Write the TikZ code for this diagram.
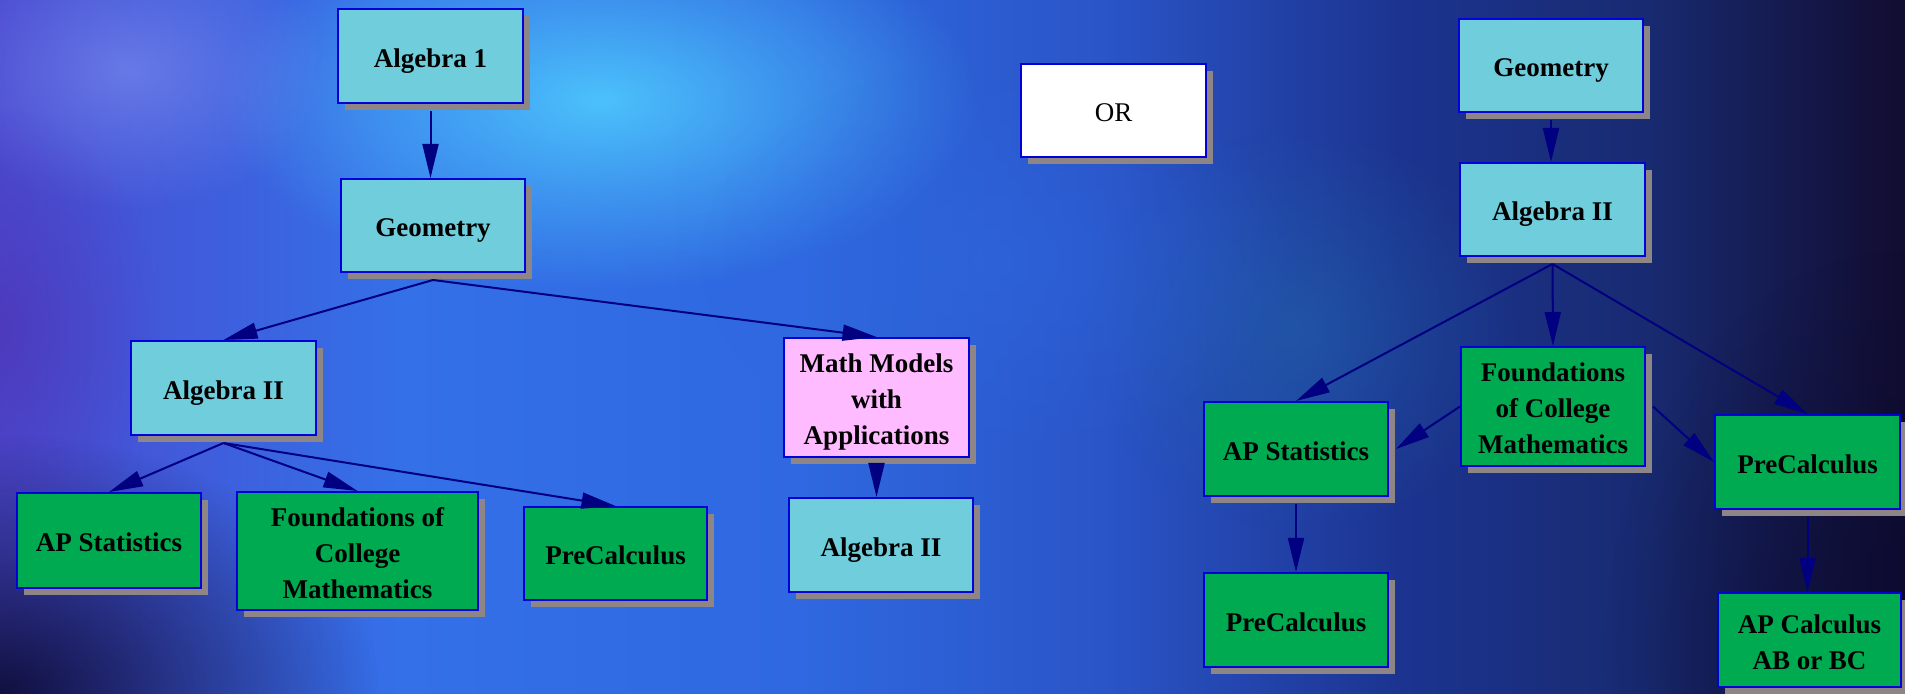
\documentclass[tikz,border=0pt]{standalone}
\usepackage{fontspec}
\setmainfont{Liberation Serif}
\usetikzlibrary{arrows.meta,shadows,fadings}
\definecolor{cyanbox}{HTML}{6FCDDC}
\definecolor{greenbox}{HTML}{00AA50}
\definecolor{pinkbox}{HTML}{FFBBFF}
\definecolor{boxedge}{HTML}{0000D8}
\definecolor{shadowgray}{HTML}{8E8686}
\definecolor{arrowblue}{HTML}{000080}
\definecolor{bgA}{HTML}{4A4AD0}
\definecolor{bgB}{HTML}{3470E8}
\definecolor{bgC}{HTML}{2F68E0}
\definecolor{bgD}{HTML}{2A55C8}
\definecolor{bgE}{HTML}{1C3490}
\definecolor{bgF}{HTML}{182A70}
\definecolor{bgG}{HTML}{120C30}
\definecolor{spotcyan}{HTML}{50D0FF}
\definecolor{spotlight}{HTML}{8090F0}
\definecolor{spotpurple}{HTML}{5030B0}
\definecolor{spotdark}{HTML}{0A0A30}
\definecolor{spotteal}{HTML}{2068A8}
\pgfdeclarehorizontalshading{bgshade}{100bp}{color(0bp)=(bgA); color(25bp)=(bgA); color(35.5bp)=(bgB); color(46bp)=(bgC); color(53.9bp)=(bgD); color(61.7bp)=(bgE); color(68.3bp)=(bgF); color(75bp)=(bgG); color(100bp)=(bgG)}
\pgfdeclareradialshading{softblobshade}{\pgfpointorigin}{color(0bp)=(pgftransparent!0); color(12bp)=(pgftransparent!50); color(25bp)=(pgftransparent!100); color(50bp)=(pgftransparent!100)}
\pgfdeclarefading{softblob}{\pgfuseshading{softblobshade}}
\newcommand\tstrut{\rule{0pt}{11.5pt}}
\tikzset{
  cbox/.style={draw=boxedge, line width=1pt, inner sep=0pt, align=center,
    font=\fontsize{13.5}{18}\selectfont\bfseries,
    drop shadow={shadow xshift=3.5pt, shadow yshift=-3.5pt, fill=shadowgray, opacity=1}},
  cyanb/.style={cbox, fill=cyanbox},
  greenb/.style={cbox, fill=greenbox},
  pinkb/.style={cbox, fill=pinkbox},
  whiteb/.style={cbox, fill=white, font=\fontsize{13.5}{18}\selectfont},
  link/.style={draw=arrowblue, line width=1pt, -{Triangle[length=17pt,width=8pt]}},
  blob/.style={path fading=softblob, fit fading=true}
}
\begin{document}
\begin{tikzpicture}[x=0.5pt,y=-0.5pt]
\useasboundingbox (0,0) rectangle (1905,694);
% background
\shade[shading=bgshade] (0,0) rectangle (1905,694);
\fill[spotcyan, blob, fill opacity=0.85] (600,100) ellipse (380 and 190);
\fill[spotlight, blob, fill opacity=0.6] (130,70) ellipse (200 and 140);
\fill[spotpurple, blob, fill opacity=0.6] (0,330) ellipse (160 and 220);
\fill[spotdark, blob, fill opacity=0.9] (0,694) ellipse (380 and 260);
\fill[spotdark, blob, fill opacity=0.7] (1905,650) ellipse (300 and 400);
\fill[spotteal, blob, fill opacity=0.5] (1300,330) ellipse (220 and 200);
\fill[bgC, blob, fill opacity=0.5] (1000,260) ellipse (300 and 200);
% nodes
\node[cyanb, minimum width=92.5pt, minimum height=47pt] (alg1) at (430.5,56) {\tstrut\smash{Algebra 1}};
\node[cyanb, minimum width=92pt, minimum height=46.5pt] (geoL) at (433,225.5) {\tstrut\smash{Geometry}};
\node[cyanb, minimum width=92.5pt, minimum height=47pt] (alg2L) at (223.5,388) {\tstrut\smash{Algebra II}};
\node[greenb, minimum width=92pt, minimum height=47.5pt] (apsL) at (109,540.5) {\tstrut\smash{AP Statistics}};
\node[greenb, minimum width=120.5pt, minimum height=59pt] (focL) at (357.5,551) {\tstrut Foundations of\\College\\\smash{Mathematics}};
\node[greenb, minimum width=91.5pt, minimum height=46.5pt] (preL) at (615.5,553.5) {\tstrut\smash{PreCalculus}};
\node[pinkb, minimum width=92.5pt, minimum height=59.5pt] (mmL) at (876.5,397.5) {\tstrut Math Models\\with\\\smash{Applications}};
\node[cyanb, minimum width=92pt, minimum height=47pt] (alg2M) at (881,545) {\tstrut\smash{Algebra II}};
\node[whiteb, minimum width=92.5pt, minimum height=46.5pt] (orbox) at (1113.5,110.5) {\tstrut\smash{OR}};
\node[cyanb, minimum width=92pt, minimum height=46.5pt] (geoR) at (1551,65.5) {\tstrut\smash{Geometry}};
\node[cyanb, minimum width=92.5pt, minimum height=46.5pt] (alg2R) at (1552.5,209.5) {\tstrut\smash{Algebra II}};
\node[greenb, minimum width=92pt, minimum height=47pt] (apsR) at (1296,449) {\tstrut\smash{AP Statistics}};
\node[greenb, minimum width=92pt, minimum height=59.5pt] (focR) at (1553,406.5) {\tstrut Foundations\\of College\\\smash{Mathematics}};
\node[greenb, minimum width=92.5pt, minimum height=47pt] (preR) at (1807.5,462) {\tstrut\smash{PreCalculus}};
\node[greenb, minimum width=92pt, minimum height=47pt] (preR2) at (1296,620) {\tstrut\smash{PreCalculus}};
\node[greenb, minimum width=91.5pt, minimum height=47pt] (apcR) at (1809.5,640) {\tstrut AP Calculus\\\smash{AB or BC}};
% connectors
\draw[link] ([yshift=-3.5pt]alg1.south) -- (alg1.south |- geoL.north);
\draw[link] ([yshift=-3.5pt]geoL.south) -- (alg2L.north);
\draw[link] ([yshift=-3.5pt]geoL.south) -- (mmL.north);
\draw[link] ([yshift=-3.5pt]alg2L.south) -- (apsL.north);
\draw[link] ([yshift=-3.5pt]alg2L.south) -- (focL.north);
\draw[link] ([yshift=-3.5pt]alg2L.south) -- (preL.north);
\draw[link] ([yshift=-3.5pt]mmL.south) -- (mmL.south |- alg2M.north);
\draw[link] ([yshift=-3.5pt]geoR.south) -- (geoR.south |- alg2R.north);
\draw[link] ([yshift=-3.5pt]alg2R.south) -- (apsR.north);
\draw[link] ([yshift=-3.5pt]alg2R.south) -- (focR.north);
\draw[link] ([yshift=-3.5pt]alg2R.south) -- (preR.north);
\draw[link] (focR.west) -- ([xshift=3.5pt]apsR.east);
\draw[link] ([xshift=3.5pt]focR.east) -- (preR.west);
\draw[link] ([yshift=-3.5pt]apsR.south) -- (preR2.north);
\draw[link] ([yshift=-3.5pt]preR.south) -- (preR.south |- apcR.north);
\end{tikzpicture}
\end{document}
